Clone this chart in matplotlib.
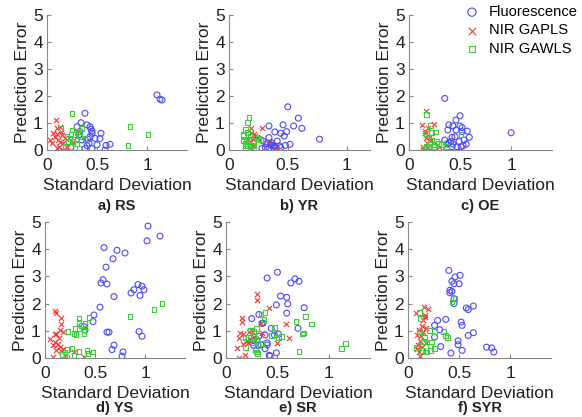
import matplotlib
matplotlib.use("Agg")
import matplotlib.pyplot as plt

plt.rcParams['font.family'] = ['Liberation Sans', 'DejaVu Sans']

# (standard deviation, prediction error)
rs_fluo = [(1.10, 2.04), (1.13, 1.88), (1.15, 1.85), (0.38, 1.36), (0.34, 1.01), (0.30, 0.86),
           (0.40, 0.93), (0.43, 0.86), (0.44, 0.77), (0.45, 0.62), (0.45, 0.70), (0.54, 0.62),
           (0.53, 0.42), (0.48, 0.43), (0.41, 0.40), (0.42, 0.25), (0.40, 0.16), (0.50, 0.19),
           (0.59, 0.17), (0.63, 0.21), (0.32, 0.56), (0.33, 0.68), (0.24, 0.10), (0.38, 0.05),
           (0.45, 0.05), (0.58, 0.00), (0.35, 0.37), (0.43, 0.49)]
rs_gapls = [(0.09, 1.11), (0.13, 0.86), (0.10, 0.80), (0.05, 0.25), (0.08, 0.49), (0.11, 0.37),
            (0.06, 0.64), (0.15, 0.56), (0.12, 0.12), (0.16, 0.25), (0.10, 0.06), (0.18, 0.43),
            (0.30, 0.68), (0.20, 0.12), (0.14, 0.68), (0.10, 0.59), (0.13, 0.31), (0.03, 0.37),
            (0.16, 0.00), (0.26, 0.31)]
rs_gawls = [(0.25, 1.35), (0.14, 0.80), (0.35, 0.80), (0.25, 0.74), (0.83, 0.86), (1.01, 0.58),
            (0.81, 0.16), (0.32, 0.06), (0.20, 0.49), (0.23, 0.43), (0.28, 0.56), (0.30, 0.37),
            (0.33, 0.49), (0.21, 0.31), (0.26, 0.31), (0.18, 0.12), (0.30, 0.25), (0.38, 0.43),
            (0.31, 0.68), (0.24, 0.56)]

yr_fluo = [(0.50, 1.60), (0.59, 1.18), (0.62, 0.80), (0.55, 0.89), (0.77, 0.40), (0.46, 0.93),
           (0.34, 0.89), (0.39, 0.67), (0.49, 0.68), (0.44, 0.62), (0.47, 0.52), (0.34, 0.46),
           (0.29, 0.33), (0.41, 0.33), (0.36, 0.27), (0.38, 0.17), (0.39, 0.15), (0.36, 0.17),
           (0.31, 0.09), (0.52, 0.21), (0.48, 0.17), (0.43, 0.15), (0.28, 0.06), (0.32, 0.24),
           (0.40, 0.09), (0.34, 0.06), (0.38, 0.09), (0.44, 0.09), (0.35, 0.21)]
yr_gapls = [(0.28, 0.83), (0.19, 0.82), (0.21, 0.58), (0.22, 0.52), (0.24, 0.50), (0.16, 0.40),
            (0.18, 0.27), (0.21, 0.15), (0.19, 0.02), (0.41, 0.02), (0.34, 0.30), (0.25, 0.46),
            (0.20, 0.40), (0.19, 0.64)]
yr_gawls = [(0.17, 1.21), (0.16, 1.01), (0.14, 0.77), (0.12, 0.58), (0.12, 0.54), (0.16, 0.64),
            (0.15, 0.40), (0.14, 0.25), (0.16, 0.17), (0.21, 0.36), (0.25, 0.42), (0.27, 0.40),
            (0.14, 0.05), (0.18, 0.05), (0.14, 0.15), (0.18, 0.52), (0.21, 0.15), (0.12, 0.33)]

oe_fluo = [(0.35, 1.91), (0.50, 1.27), (0.46, 1.11), (0.39, 0.93), (0.43, 0.89), (0.50, 0.89),
           (0.52, 0.83), (0.57, 0.70), (0.38, 0.74), (0.52, 0.68), (0.46, 0.74), (0.59, 0.47),
           (0.54, 0.37), (0.42, 0.47), (0.45, 0.49), (0.41, 0.31), (0.49, 0.31), (0.37, 0.22),
           (0.43, 0.22), (0.53, 0.16), (1.00, 0.64), (0.39, 0.27), (0.47, 0.12), (0.56, 0.22),
           (0.42, 0.12), (0.35, 0.37), (0.51, 0.12), (0.37, 0.06)]
oe_gapls = [(0.17, 1.46), (0.13, 0.93), (0.24, 0.95), (0.16, 0.70), (0.19, 0.80), (0.17, 0.43),
            (0.21, 0.49), (0.14, 0.12), (0.19, 0.12), (0.24, 0.25), (0.15, 0.00), (0.29, 0.12),
            (0.18, 0.27), (0.22, 0.37), (0.16, 0.62)]
oe_gawls = [(0.17, 1.32), (0.21, 0.90), (0.17, 0.62), (0.26, 0.67), (0.22, 0.65), (0.51, 0.56),
            (0.22, 0.37), (0.27, 0.31), (0.17, 0.12), (0.24, 0.12), (0.19, 0.06), (0.32, 0.19),
            (0.29, 0.25), (0.37, 0.12), (0.20, 0.22), (0.14, 0.04), (0.25, 0.02)]

ys_fluo = [(1.03, 4.85), (1.15, 4.48), (1.02, 4.31), (0.59, 4.06), (0.72, 3.96), (0.80, 3.86),
           (0.61, 3.34), (0.68, 3.65), (0.58, 2.88), (0.56, 2.76), (0.62, 2.72), (0.93, 2.70),
           (0.97, 2.64), (0.99, 2.51), (0.89, 2.51), (0.86, 2.39), (0.95, 2.30), (0.69, 2.26),
           (0.55, 1.87), (0.49, 1.58), (0.48, 1.34), (0.39, 1.15), (0.40, 1.03), (0.62, 0.95),
           (0.64, 0.95), (0.94, 0.97), (0.97, 0.80), (0.69, 0.47), (0.67, 0.31), (0.78, 0.22),
           (0.77, 0.07)]
ys_gapls = [(0.10, 1.71), (0.11, 1.65), (0.16, 1.46), (0.16, 1.24), (0.11, 0.90), (0.10, 0.87),
            (0.15, 1.03), (0.18, 0.97), (0.05, 0.69), (0.10, 0.59), (0.13, 0.50), (0.15, 0.41),
            (0.11, 0.31), (0.08, 0.47), (0.16, 0.25), (0.20, 0.12), (0.08, 0.04), (0.39, 0.04),
            (0.14, 0.72), (0.18, 0.32), (0.29, 0.22)]
ys_gawls = [(1.17, 1.99), (1.09, 1.77), (0.85, 1.52), (0.34, 1.46), (0.44, 1.50), (0.34, 1.31),
            (0.36, 1.19), (0.40, 1.26), (0.30, 1.09), (0.34, 1.09), (0.23, 0.97), (0.29, 0.90),
            (0.31, 0.87), (0.39, 0.88), (0.39, 1.03), (0.22, 0.31), (0.27, 0.35), (0.29, 0.10),
            (0.22, 0.04), (0.20, 0.22), (0.17, 0.14), (0.34, 0.25), (0.42, 0.28), (0.48, 0.22),
            (0.43, 0.16)]

sr_fluo = [(0.50, 3.15), (0.40, 2.94), (0.67, 2.91), (0.71, 2.82), (0.63, 2.76), (0.53, 2.28),
           (0.59, 2.23), (0.60, 1.99), (0.49, 1.95), (0.76, 1.85), (0.59, 1.65), (0.32, 1.60),
           (0.25, 1.45), (0.36, 1.28), (0.35, 1.27), (0.44, 1.09), (0.70, 1.09), (0.47, 0.85),
           (0.38, 0.85), (0.51, 0.88), (0.32, 0.80), (0.30, 0.67), (0.40, 0.56), (0.40, 0.48),
           (0.34, 0.48), (0.38, 0.34), (0.31, 0.46), (0.49, 0.19), (0.42, 0.10), (0.43, 0.07),
           (0.27, 0.46), (0.26, 0.64)]
sr_gapls = [(0.30, 2.34), (0.30, 2.13), (0.42, 1.82), (0.16, 1.46), (0.16, 1.34), (0.34, 1.28),
            (0.58, 1.25), (0.35, 0.92), (0.14, 0.92), (0.17, 0.88), (0.22, 0.97), (0.25, 1.00),
            (0.13, 0.74), (0.20, 0.64), (0.17, 0.52), (0.23, 0.70), (0.50, 0.56), (0.61, 0.73),
            (0.11, 0.36), (0.18, 0.12), (0.13, 0.01), (0.27, 0.76), (0.21, 0.56)]
sr_gawls = [(0.77, 1.53), (0.83, 1.25), (0.68, 1.34), (0.38, 1.67), (0.34, 1.61), (0.37, 1.43),
            (0.47, 1.13), (0.30, 1.07), (0.24, 1.00), (0.27, 0.97), (0.22, 0.76), (0.19, 0.76),
            (0.27, 0.80), (0.44, 0.82), (0.51, 0.76), (0.54, 0.79), (0.75, 0.92), (0.74, 0.88),
            (0.19, 0.40), (0.27, 0.58), (0.35, 0.52), (0.29, 0.30), (0.30, 0.22), (0.31, 0.16),
            (0.71, 0.24), (1.12, 0.36), (1.16, 0.52), (0.30, 0.64)]

syr_fluo = [(0.40, 3.22), (0.51, 3.04), (0.46, 2.98), (0.43, 2.82), (0.45, 2.73), (0.50, 2.73),
            (0.41, 2.49), (0.43, 2.45), (0.41, 2.40), (0.45, 2.18), (0.45, 2.00), (0.64, 1.91),
            (0.57, 1.84), (0.59, 1.78), (0.37, 1.42), (0.29, 1.38), (0.52, 1.32), (0.53, 1.20),
            (0.26, 1.20), (0.31, 1.04), (0.64, 0.93), (0.59, 0.83), (0.49, 0.63), (0.49, 0.49),
            (0.32, 0.42), (0.53, 0.28), (0.42, 0.18), (0.77, 0.40), (0.82, 0.37), (0.84, 0.22),
            (0.26, 0.77)]
syr_gapls = [(0.16, 1.88), (0.20, 1.79), (0.08, 1.65), (0.17, 1.59), (0.17, 1.51), (0.15, 1.38),
             (0.14, 1.16), (0.18, 1.10), (0.11, 1.02), (0.09, 0.83), (0.13, 0.80), (0.12, 0.61),
             (0.10, 0.47), (0.14, 0.40), (0.11, 0.22), (0.12, 0.07), (0.09, 0.32), (0.18, 0.56),
             (0.15, 0.96)]
syr_gawls = [(0.11, 1.67), (0.12, 1.45), (0.46, 2.18), (0.43, 2.06), (0.11, 0.96), (0.21, 1.02),
             (0.26, 0.98), (0.35, 0.98), (0.37, 0.83), (0.39, 0.74), (0.16, 0.74), (0.15, 0.61),
             (0.23, 0.59), (0.22, 0.44), (0.08, 0.40), (0.26, 0.34), (0.22, 0.28), (0.17, 0.22),
             (0.14, 0.28), (0.18, 0.22)]

panels = [
    ("a) RS", rs_fluo, rs_gapls, rs_gawls, 1.4),
    ("b) YR", yr_fluo, yr_gapls, yr_gawls, 1.2),
    ("c) OE", oe_fluo, oe_gapls, oe_gawls, 1.4),
    ("d) YS", ys_fluo, ys_gapls, ys_gawls, 1.4),
    ("e) SR", sr_fluo, sr_gapls, sr_gawls, 1.4),
    ("f) SYR", syr_fluo, syr_gapls, syr_gawls, 1.4),
]

# axes boxes in pixels: left, right, top, bottom, caption centre
boxes = [(47, 187, 15, 150, 206), (229, 370, 15, 150, 206), (409, 552, 15, 150, 206),
         (45, 185, 222, 358, 408), (226, 370, 222, 358, 408), (408, 551, 222, 358, 408)]

W, H = 582, 417
fig = plt.figure(figsize=(W / 100, H / 100), dpi=100)

blue = '#4a4aff'
red = '#ff3030'
green = '#3ccc3c'

for (title, fl, ga, gw, xmax), (l, r, t, b, cap) in zip(panels, boxes):
    ax = fig.add_axes([l / W, 1 - b / H, (r - l) / W, (b - t) / H])
    ax.scatter([p[0] for p in fl], [p[1] for p in fl], s=18, facecolors='none',
               edgecolors=blue, linewidths=0.8, label='Fluorescence')
    ax.scatter([p[0] for p in ga], [p[1] for p in ga], s=14, marker='x',
               color=red, linewidths=0.8, label='NIR GAPLS')
    ax.scatter([p[0] for p in gw], [p[1] for p in gw], s=12, marker='s', facecolors='none',
               edgecolors=green, linewidths=0.8, label='NIR GAWLS')
    ax.set_xlim(0, xmax)
    ax.set_ylim(0, 5)
    ax.set_xticks([0, 0.5, 1])
    ax.set_xticklabels(['0', '0.5', '1'])
    ax.set_yticks([0, 1, 2, 3, 4, 5])
    for side in ['top', 'right']:
        ax.spines[side].set_visible(False)
    for side in ['left', 'bottom']:
        ax.spines[side].set_color('#888888')
        ax.spines[side].set_linewidth(0.8)
    ax.tick_params(direction='in', length=3, color='#888888', labelsize=12.5,
                   labelcolor='#222222')
    ax.tick_params(axis='x', pad=5.5)
    ax.tick_params(axis='y', pad=3)
    ax.set_xlabel('Standard Deviation', fontsize=12.6, color='#222222', labelpad=4)
    ax.set_ylabel('Prediction Error', fontsize=12.6, color='#222222', labelpad=2)
    fig.text((l + r) / 2 / W, 1 - cap / H, title, ha='center', va='center',
             fontsize=10.5, fontweight='bold', color='#222222')
    if title.startswith('c)'):
        ax.legend(loc='upper right', frameon=False, fontsize=10.6, handletextpad=0.15,
                  borderaxespad=0.0, labelspacing=0.3, markerscale=1.4, borderpad=0.2,
                  bbox_to_anchor=(0.998, 0.995), bbox_transform=fig.transFigure)

fig.savefig('out.png', dpi=100)
